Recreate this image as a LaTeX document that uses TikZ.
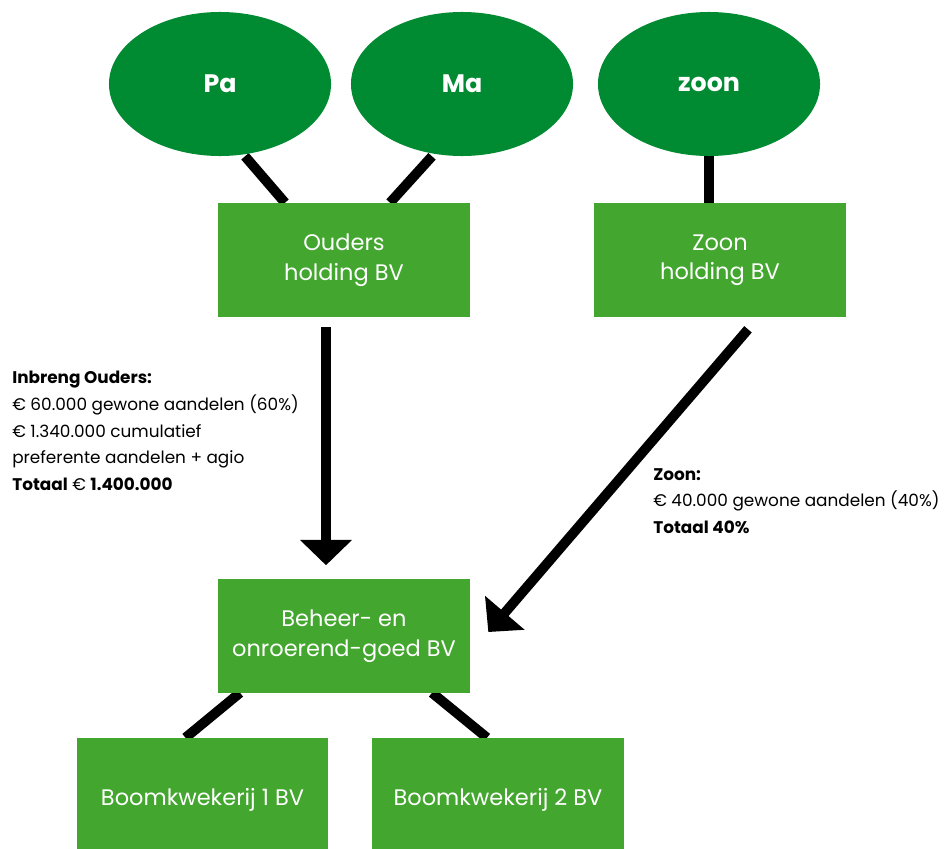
\documentclass[tikz,border=0pt]{standalone}
\usepackage{fontspec}
\setmainfont{Poppins}
\usetikzlibrary{positioning,arrows.meta,shapes.geometric,backgrounds}
\definecolor{darkgreen}{RGB}{0,138,50}
\definecolor{boxgreen}{RGB}{67,166,46}

\begin{document}
\begin{tikzpicture}[x=0.025cm,y=-0.025cm,
  person/.style={ellipse,fill=darkgreen,text=white,minimum width=5.55cm,minimum height=3.6cm,font=\fontsize{18}{20}\selectfont\bfseries},
  company/.style={fill=boxgreen,text=white,align=center,minimum width=6.3cm,minimum height=2.85cm,font=\fontsize{16}{21}\selectfont},
  link/.style={line width=7pt},
  flow/.style={line width=7pt,-{Triangle[width=36pt,length=18pt]}},
  note/.style={align=left,anchor=north west,inner sep=0pt,font=\fontsize{12}{19}\selectfont}]
  \useasboundingbox (0,0) rectangle (944,848);
  % shareholders
  \node[person] (pa) at (220,84) {Pa};
  \node[person] (ma) at (462,84) {Ma};
  \node[person] (zoon) at (709,84) {zoon};
  % holdings
  \node[company] (ouders) at (344,260) {Ouders\\holding BV};
  \node[company] (zoonh) at (720,260) {Zoon\\holding BV};
  % werkmaatschappijen
  \node[company,minimum height=2.825cm] (beheer) at (344,636) {Beheer- en\\onroerend-goed BV};
  \node[company,minimum width=6.275cm,minimum height=3.1cm] (boom1) at (202.5,800) {Boomkwekerij 1 BV};
  \node[company,minimum width=6.275cm,minimum height=3.1cm] (boom2) at (498,800) {Boomkwekerij 2 BV};
  \begin{scope}[on background layer]
  \draw[link] ([xshift=0.625cm]pa.south) -- ([xshift=-1.475cm]ouders.north);
  \draw[link] ([xshift=-0.75cm]ma.south) -- ([xshift=1.15cm]ouders.north);
  \draw[link] (zoon.south) -- (zoon.south |- zoonh.north);
  \draw[link] ([xshift=-2.6cm]beheer.south) -- ([xshift=-0.425cm]boom1.north);
  \draw[link] ([xshift=2.2cm]beheer.south) -- ([xshift=-0.275cm]boom2.north);
  \end{scope}
  % inbreng
  \draw[flow] ([xshift=-0.45cm,yshift=-0.25cm]ouders.south) -- ([xshift=-0.45cm,yshift=0.35cm]beheer.north);
  \draw[flow] ([xshift=0.7cm,yshift=-0.3cm]zoonh.south) -- ([xshift=0.45cm,yshift=0.1cm]beheer.east);
  \node[note] (inbreng) at (12,371) {\textbf{Inbreng Ouders:}\\€ 60.000 gewone aandelen (60\%)\\€ 1.340.000 cumulatief\\preferente aandelen + agio\\\textbf{Totaal} € \textbf{1.400.000}};
  \node[note] (zoonnote) at (653,468) {\textbf{Zoon:}\\€ 40.000 gewone aandelen (40\%)\\\textbf{Totaal 40\%}};
\end{tikzpicture}
\end{document}
